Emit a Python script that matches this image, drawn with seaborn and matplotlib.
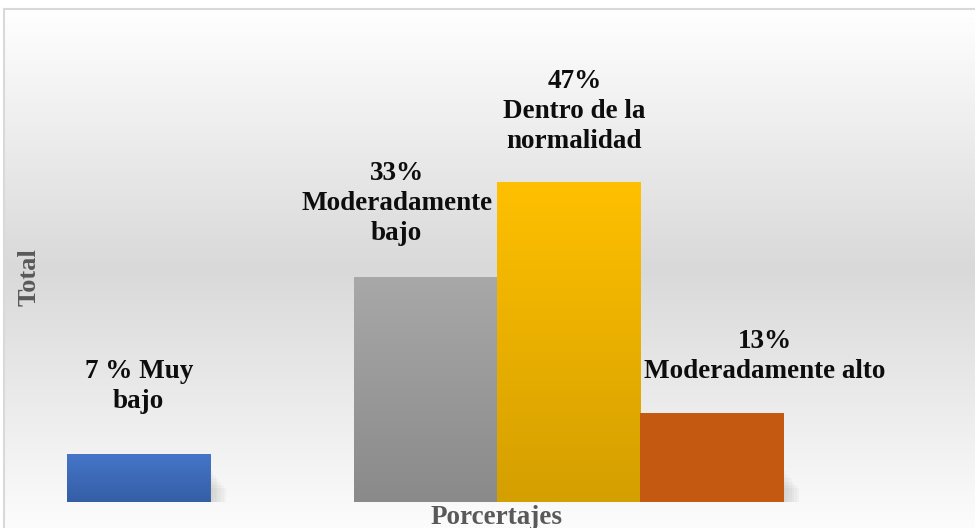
import numpy as np
import pandas as pd
import matplotlib
matplotlib.use('Agg')
import matplotlib.pyplot as plt
import seaborn as sns
from matplotlib.colors import LinearSegmentedColormap

# data
categorias = ['Muy bajo', 'Moderadamente bajo', 'Dentro de la normalidad', 'Moderadamente alto']
posiciones = [0, 2, 3, 4]
porcentajes = [7, 33, 47, 13]
etiquetas = ['7 % Muy\nbajo', '33%\nModeradamente\nbajo', '47%\nDentro de la\nnormalidad', '13%\nModeradamente alto']

colores_top = ['#4675c8', '#a8a8a8', '#ffc000', '#c55a11']
colores_bot = ['#345ea6', '#8a8a8a', '#d49f00', '#c45a12']

sns.set_theme(style='white')
plt.rcParams['font.family'] = ['Liberation Serif', 'DejaVu Serif']

fig = plt.figure(figsize=(9.75, 5.28), dpi=100)

# background panel with grey gradient
W, H = 975, 528
bg = fig.add_axes([4 / W, 0, 1 - 4 / W, 1 - 9 / H])
bg_cmap = LinearSegmentedColormap.from_list('bg', [(0, '#ffffff'), (0.5, '#d9d9d9'), (1, '#fcfcfc')])
bg.imshow(np.linspace(0, 1, 256).reshape(-1, 1), aspect='auto', cmap=bg_cmap,
          extent=[0, 1, 0, 1], origin='upper')
bg.set_xlim(0, 1)
bg.set_ylim(0, 1)
bg.set_xticks([])
bg.set_yticks([])
for s in ['right', 'bottom']:
    bg.spines[s].set_visible(False)
for s in ['left', 'top']:
    bg.spines[s].set_color('#d9d9d9')
    bg.spines[s].set_linewidth(1.5)

# main axes
ax = fig.add_axes([4 / W, (H - 502) / H, 1 - 4 / W, (502 - 30) / H])
ax.patch.set_alpha(0)

df = pd.DataFrame({'pos': posiciones, 'valor': porcentajes, 'cat': categorias})
sns.barplot(data=df, x='pos', y='valor', hue='cat', palette=colores_top,
            native_scale=True, width=1.0, dodge=False, legend=False, ax=ax,
            linewidth=0, saturation=1)

# gradient fill on each bar
bars = sorted(ax.patches, key=lambda p: p.get_x())
for i, p in enumerate(bars):
    x0, y0 = p.get_x(), p.get_y()
    w, h = p.get_width(), p.get_height()
    cm = LinearSegmentedColormap.from_list('b%d' % i, [colores_top[i], colores_bot[i]])
    im = ax.imshow(np.linspace(0, 1, 128).reshape(-1, 1), aspect='auto', cmap=cm,
                   extent=[x0, x0 + w, y0, y0 + h], origin='upper', zorder=p.get_zorder())
    im.set_clip_path(p)
    # soft shadow to the lower right
    for k in range(6):
        ax.add_patch(plt.Rectangle((x0 + w, y0), 0.02 + k * 0.018, min(h, 4.5) - k * 0.5,
                                   color='#808080', alpha=0.05, lw=0, zorder=1))

ax.set_xlim(-0.94, -0.94 + 971 / 143.3)
ax.set_ylim(0, 472 / (320 / 47))
ax.set_xticks([])
ax.set_yticks([])
ax.set_xlabel('')
ax.set_ylabel('')
sns.despine(ax=ax, left=True, bottom=True)

# data labels
dx = [0.0, -0.2, 0.04, 0.37]
dy = [40, 31, 28, 29]
for i in range(len(porcentajes)):
    ax.annotate(etiquetas[i], (posiciones[i] + dx[i], porcentajes[i]),
                xytext=(0, dy[i] * 0.72), textcoords='offset points',
                ha='center', va='bottom', fontsize=19.5, fontweight='bold',
                color='#0d0d0d', linespacing=1.27)

fig.text(497 / W, 1 - 517 / H, 'Porcertajes', ha='center', va='center',
         fontsize=19.5, fontweight='bold', color='#595959')
fig.text(29 / W, 1 - 277 / H, 'Total', ha='center', va='center', rotation=90,
         fontsize=19, fontweight='bold', color='#595959')

fig.savefig('out.png', dpi=100)
